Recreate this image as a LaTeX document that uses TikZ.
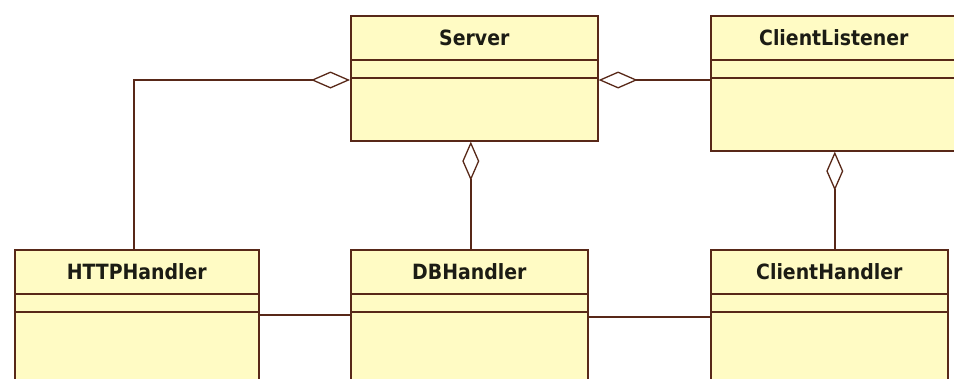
\documentclass[tikz,border=0pt]{standalone}
\usepackage{fontspec}
\setmainfont{DejaVu Sans Condensed}
\usetikzlibrary{arrows.meta}
\definecolor{boxfill}{RGB}{255,251,196}
\definecolor{boxline}{RGB}{88,40,24}
\definecolor{txt}{RGB}{28,28,20}
\tikzset{
  umlclass/.style={draw=boxline, fill=boxfill, line width=1.6pt, anchor=north west, inner sep=0pt},
  sepline/.style={draw=boxline, line width=1.6pt},
  title/.style={font=\bfseries\fontsize{21}{24}\selectfont, text=txt, anchor=center, inner sep=0pt},
  conn/.style={draw=boxline, line width=1.7pt},
  aggr/.style={conn, -{Diamond[open, length=39pt, width=17pt, line width=1.3pt, fill=white]}},
}
\begin{document}
\begin{tikzpicture}[x=1pt, y=-1pt]
\useasboundingbox (0,0) rectangle (954,378);
\clip (0,0) rectangle (954,378);
% boxes
\node[umlclass, minimum width=247pt, minimum height=125pt] (server) at (350,15) {};
\node[umlclass, minimum width=252pt, minimum height=135pt] (cl) at (710,15) {};
\node[umlclass, minimum width=244pt, minimum height=160pt] (http) at (14,249) {};
\node[umlclass, minimum width=237pt, minimum height=160pt] (db) at (350,249) {};
\node[umlclass, minimum width=237pt, minimum height=160pt] (ch) at (710,249) {};
% separators
\foreach \b in {server, cl, http, db, ch}{
  \draw[sepline] ([yshift=-45pt]\b.north west) -- ([yshift=-45pt]\b.north east);
  \draw[sepline] ([yshift=-63pt]\b.north west) -- ([yshift=-63pt]\b.north east);
}
% titles
\node[title] (tserver) at ([yshift=-22.5pt]server.north) {Server};
\node[title] (tcl) at ([yshift=-22.5pt,xshift=-3pt]cl.north) {ClientListener};
\node[title] (thttp) at ([yshift=-22.5pt]http.north) {HTTPHandler};
\node[title] (tdb) at ([yshift=-22.5pt]db.north) {DBHandler};
\node[title] (tch) at ([yshift=-22.5pt]ch.north) {ClientHandler};
% connectors
\draw[aggr] ([xshift=-3pt]http.north) |- ([yshift=-65pt]server.north west);
\draw[aggr] ([yshift=-65pt]cl.north west) -- ([yshift=-65pt]server.north east);
\draw[aggr] ([xshift=1.5pt]db.north) -- ([xshift=1.5pt]db.north |- server.south);
\draw[aggr] ([xshift=5.5pt]ch.north) -- ([xshift=5.5pt]ch.north |- cl.south);
\draw[conn] ([yshift=-66pt]http.north east) -- ([yshift=-66pt]db.north west);
\draw[conn] ([yshift=-68pt]db.north east) -- ([yshift=-68pt]ch.north west);
\end{tikzpicture}
\end{document}
